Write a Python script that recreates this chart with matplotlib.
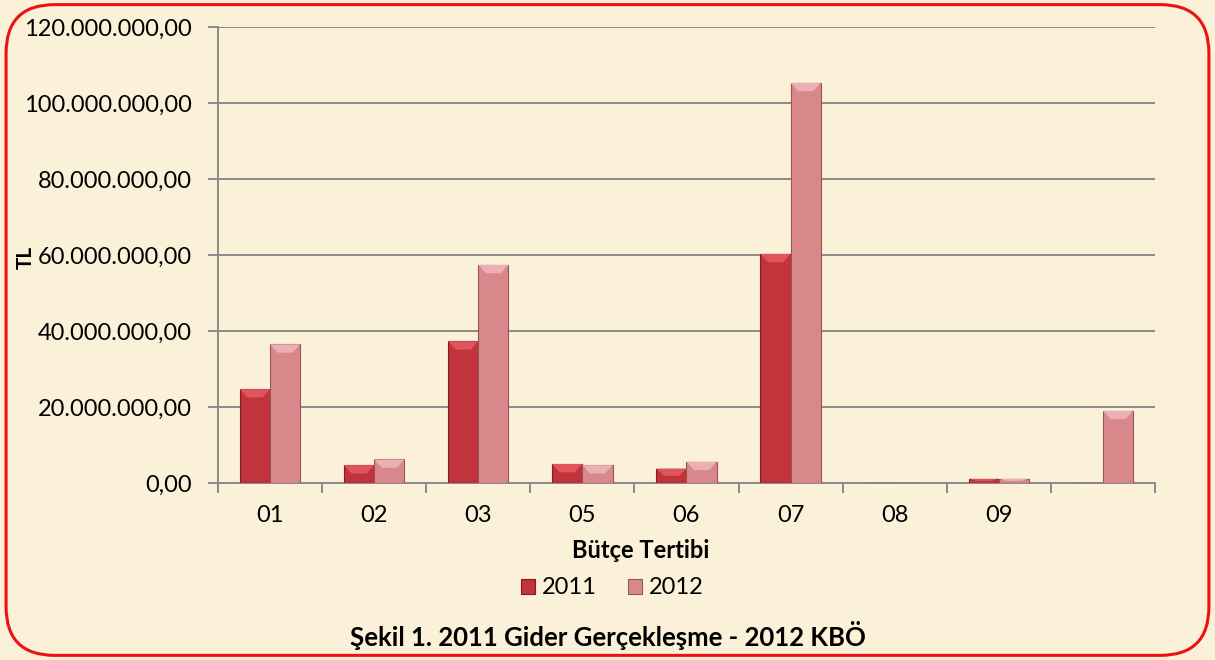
import numpy as np
import matplotlib.pyplot as plt
from matplotlib.patches import FancyBboxPatch, Polygon

categories = ["01", "02", "03", "05", "06", "07", "08", "09", ""]
gider_2011 = [24.7, 4.7, 37.3, 5.0, 3.8, 60.3, 0.0, 1.1, 0.0]
kbo_2012 = [36.5, 6.2, 57.4, 4.7, 5.6, 105.3, 0.0, 1.1, 19.0]
series_names = ["2011", "2012"]
ytick_vals = [0, 20, 40, 60, 80, 100, 120]

plt.rcParams['font.family'] = ['Lato', 'DejaVu Sans']

bg = '#FBF0D8'
col_2011 = '#C3333B'
col_2012 = '#D8878B'
edge_2011 = '#7E1F24'
edge_2012 = '#9A5558'

fig = plt.figure(figsize=(12.15, 6.6), dpi=100)
fig.patch.set_facecolor(bg)

# rounded red frame
frame = FancyBboxPatch((0.005, 0.007), 0.990, 0.986, boxstyle="round,pad=0,rounding_size=0.04",
                       transform=fig.transFigure, facecolor='none', edgecolor='#EE1111',
                       linewidth=2.2, mutation_aspect=12.15 / 6.6)
fig.patches.append(frame)

ax = fig.add_axes([0.1794, 0.2682, 0.7712, 0.6909])
ax.set_facecolor('none')

x = np.arange(len(categories))
w = 0.29
vals_2011 = np.array(gider_2011) * 1e6
vals_2012 = np.array(kbo_2012) * 1e6
b1 = ax.bar(x - w / 2, vals_2011, w, color=col_2011, edgecolor=edge_2011, linewidth=0.8,
            label=series_names[0], zorder=3)
b2 = ax.bar(x + w / 2, vals_2012, w, color=col_2012, edgecolor=edge_2012, linewidth=0.8,
            label=series_names[1], zorder=3)

# bevel highlight on the top of each bar
for bars, hi in ((b1, '#E0555C'), (b2, '#EBB0B3')):
    for r in bars:
        h = r.get_height()
        if h <= 0:
            continue
        x0, bw = r.get_x(), r.get_width()
        bev = min(2.2e6, h * 0.5)
        ax.add_patch(Polygon([(x0, h), (x0 + bw, h), (x0 + bw * 0.75, h - bev),
                              (x0 + bw * 0.25, h - bev)], closed=True,
                             facecolor=hi, edgecolor='none', zorder=4))

ax.set_xlim(-0.5, len(categories) - 0.5)
ax.set_ylim(0, 120e6)
ax.set_yticks([v * 1e6 for v in ytick_vals])
ax.set_yticklabels([f"{v}.000.000,00" if v > 0 else "0,00" for v in ytick_vals], fontsize=17)
ax.yaxis.grid(True, color='#8A8A8A', linewidth=1.4, zorder=0)
ax.set_axisbelow(True)

ax.set_xticks(x)
ax.set_xticklabels(categories, fontsize=17)
ax.set_xticks(np.arange(-0.5, len(categories)), minor=True)
ax.tick_params(axis='x', which='major', length=0, pad=16)
ax.tick_params(axis='x', which='minor', length=7, color='#8A8A8A', width=1.4)
ax.tick_params(axis='y', length=7, color='#8A8A8A', width=1.4, pad=12)

for s in ('top', 'right'):
    ax.spines[s].set_visible(False)
for s in ('left', 'bottom'):
    ax.spines[s].set_color('#8A8A8A')
    ax.spines[s].set_linewidth(1.4)

fig.text(0.527, 1 - 550 / 660, "Bütçe Tertibi", fontsize=17, fontweight='bold',
         ha='center', va='center')
fig.text(0.021, 0.61, "TL", rotation=90, fontsize=15, fontweight='bold', va='center', ha='center')

fig.legend(handles=[b1, b2], loc='center', bbox_to_anchor=(0.504, 1 - 588 / 660), ncol=2,
           frameon=False, fontsize=17, handlelength=0.6, handleheight=0.6,
           handletextpad=0.3, columnspacing=1.3)

fig.text(0.5, 1 - 636 / 660, "Şekil 1. 2011 Gider Gerçekleşme - 2012 KBÖ", fontsize=18.5,
         fontweight='bold', ha='center', va='center')

fig.savefig("out.png", dpi=100, facecolor=fig.get_facecolor())
